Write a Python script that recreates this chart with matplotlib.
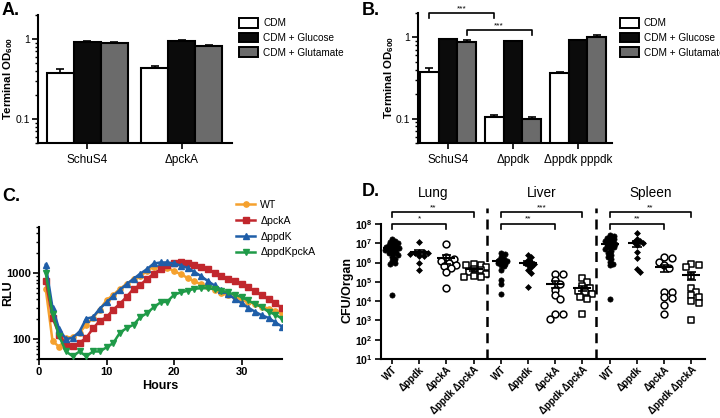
import numpy as np
import matplotlib
matplotlib.use('Agg')
import matplotlib.pyplot as plt
from matplotlib.patches import Patch
from matplotlib.lines import Line2D
from matplotlib.ticker import FixedLocator, NullFormatter, LogLocator

plt.rcParams['font.family'] = ['Liberation Sans', 'DejaVu Sans']
plt.rcParams['mathtext.fontset'] = 'custom'
plt.rcParams['mathtext.rm'] = 'Liberation Sans'
plt.rcParams['mathtext.bf'] = 'Liberation Sans:bold'
plt.rcParams['mathtext.default'] = 'bf'

W, H = 720, 418

# ---- panel A / B : terminal OD600 ----
media = ['CDM', 'CDM + Glucose', 'CDM + Glutamate']
bar_colors = ['white', '#0b0b0b', '#6b6b6b']

a_strains = ['SchuS4', 'ΔpckA']
a_cdm = [0.38, 0.43]
a_cdm_err = [0.04, 0.025]
a_glc = [0.93, 0.95]
a_glc_err = [0.01, 0.01]
a_glu = [0.90, 0.83]
a_glu_err = [0.01, 0.02]

b_strains = ['SchuS4', 'Δppdk', 'Δppdk pppdk']
b_cdm = [0.38, 0.105, 0.36]
b_cdm_err = [0.04, 0.005, 0.02]
b_glc = [0.95, 0.90, 0.92]
b_glc_err = [0.02, 0.01, 0.01]
b_glu = [0.88, 0.098, 1.0]
b_glu_err = [0.05, 0.006, 0.06]

# ---- panel C : luminescence ----
hours = list(range(1, 37))
rlu_wt = [575, 94, 76, 105, 108, 125, 165, 210, 280, 390, 470, 580, 690, 810, 900, 1080,
          1250, 1260, 1200, 1080, 960, 850, 750, 680, 610, 560, 500, 460, 430, 400,
          370, 340, 310, 290, 270, 245]
rlu_pcka = [760, 210, 117, 82, 78, 88, 105, 145, 190, 215, 280, 345, 440, 580, 660, 820,
            980, 1150, 1320, 1420, 1450, 1420, 1350, 1250, 1150, 1010, 910, 820, 750, 690,
            610, 530, 460, 400, 350, 295]
rlu_ppdk = [1340, 300, 140, 100, 105, 130, 205, 215, 290, 360, 450, 560, 680, 820, 980, 1150,
            1400, 1450, 1450, 1400, 1300, 1200, 1050, 900, 760, 650, 560, 480, 410, 350,
            300, 260, 230, 210, 180, 155]
rlu_double = [1000, 240, 110, 65, 55, 65, 55, 65, 65, 75, 87, 126, 147, 165, 215, 247,
              305, 360, 370, 470, 510, 540, 580, 590, 590, 570, 540, 510, 470, 435,
              385, 340, 305, 260, 235, 205]
c_names = ['WT', 'ΔpckA', 'ΔppdK', 'ΔppdKpckA']
c_colors = ['#f5a12e', '#c1272d', '#1f5ea8', '#1f9a48']
c_markers = ['o', 's', '^', 'v']

# ---- panel D : CFU per organ (log10 values) ----
organs = ['Lung', 'Liver', 'Spleen']
d_strains = ['WT', 'Δppdk', 'ΔpckA', 'Δppdk ΔpckA']
lung = [
    [7.2, 7.1, 7.05, 7.0, 6.95, 6.9, 6.85, 6.8, 6.8, 6.75, 6.7, 6.7, 6.65, 6.6, 6.55, 6.5,
     6.45, 6.4, 6.3, 6.2, 6.1, 6.0, 5.95, 4.3],
    [7.08, 6.35, 6.55, 6.5, 6.57, 6.5, 6.35, 6.45, 6.0, 5.6],
    [6.95, 6.3, 6.2, 6.1, 6.0, 5.9, 5.8, 5.7, 5.5, 4.7],
    [5.95, 5.9, 5.85, 5.75, 5.65, 5.6, 5.5, 5.4, 5.3, 5.25, 5.25],
]
liver = [
    [6.5, 6.45, 6.3, 6.2, 6.15, 6.1, 6.05, 6.0, 5.95, 5.9, 5.8, 5.6, 5.1, 4.9, 4.35],
    [6.4, 6.3, 6.15, 6.05, 6.0, 5.95, 5.85, 5.75, 5.6, 5.45, 4.75],
    [5.4, 5.4, 5.1, 4.9, 4.6, 4.3, 4.1, 3.35, 3.35, 3.1],
    [5.2, 5.0, 4.8, 4.7, 4.55, 4.45, 4.35, 4.2, 4.1, 3.35],
]
spleen = [
    [7.45, 7.4, 7.3, 7.25, 7.2, 7.15, 7.1, 7.05, 7.0, 6.95, 6.9, 6.85, 6.8, 6.75, 6.7, 6.6,
     6.5, 6.4, 6.3, 6.2, 6.05, 5.95, 5.85, 4.1],
    [7.55, 7.2, 7.1, 7.05, 7.0, 6.9, 6.55, 6.25, 5.65, 5.5],
    [6.3, 6.25, 6.05, 5.85, 5.7, 4.5, 4.5, 4.2, 4.15, 3.8, 3.35],
    [5.95, 5.9, 5.75, 5.3, 4.7, 4.5, 4.3, 4.2, 4.0, 3.9, 3.0],
]
d_sig = [['**', '*'], ['***', '**'], ['**', '**']]


def rect(l, t, r, b):
    return [l / W, 1 - b / H, (r - l) / W, (b - t) / H]


def style_axes(ax):
    for s in ['top', 'right']:
        ax.spines[s].set_visible(False)
    for s in ['left', 'bottom']:
        ax.spines[s].set_linewidth(1.5)
    ax.tick_params(which='major', width=1.2, length=4, direction='out', pad=2)
    ax.tick_params(which='minor', width=1.0, length=2.5, direction='out')


def bar_panel(ax, strains, vals, errs, xlim):
    x = np.arange(len(strains))
    w = 0.285
    for i in range(3):
        ax.bar(x + (i - 1) * w, vals[i], w, color=bar_colors[i], edgecolor='black',
               linewidth=1.5, zorder=2)
        ax.errorbar(x + (i - 1) * w, vals[i], yerr=[np.zeros(len(x)), errs[i]],
                    fmt='none', ecolor='black', elinewidth=1.2, capsize=3, capthick=1.2, zorder=1)
    ax.set_yscale('log')
    ax.set_ylim(0.05, 2)
    ax.set_xlim(*xlim)
    ax.yaxis.set_major_locator(FixedLocator([0.1, 1]))
    ax.set_yticklabels(['0.1', '1'])
    ax.yaxis.set_minor_locator(LogLocator(subs=np.arange(2, 10)))
    ax.yaxis.set_minor_formatter(NullFormatter())
    ax.set_xticks(x)
    ax.set_xticklabels(strains, fontsize=8.5)
    ax.tick_params(axis='y', labelsize=7.5)
    style_axes(ax)
    ax.tick_params(axis='x', pad=4)
    return x, w


fig = plt.figure(figsize=(7.2, 4.18), dpi=100)

# A
axA = fig.add_axes(rect(38, 15, 232, 143))
bar_panel(axA, a_strains, [a_cdm, a_glc, a_glu], [a_cdm_err, a_glc_err, a_glu_err], (-0.52, 1.53))
handles = [Patch(facecolor=c, edgecolor='black', linewidth=1.4) for c in bar_colors]
leg_kw = dict(loc='upper left', frameon=False, fontsize=7.2, handlelength=1.9, handleheight=1.1,
              labelspacing=0.45, borderpad=0, borderaxespad=0, handletextpad=0.5)
fig.legend(handles, media, bbox_to_anchor=(239 / W, 1 - 18 / H), **leg_kw)

# B
axB = fig.add_axes(rect(418, 13, 612, 143))
xb, wb = bar_panel(axB, b_strains, [b_cdm, b_glc, b_glu], [b_cdm_err, b_glc_err, b_glu_err],
                   (-0.46, 2.52))
for (x0, x1, y, yd) in [(xb[0] - wb, xb[1] - wb, 2.0, 1.74), (xb[0] + wb, xb[1] + wb, 1.23, 1.06)]:
    axB.plot([x0, x0, x1, x1], [yd, y, y, yd], color='black', lw=1.2, clip_on=False)
    axB.text((x0 + x1) / 2, y * 1.03, '***', ha='center', va='bottom', fontsize=6)
fig.legend(handles, media, bbox_to_anchor=(620 / W, 1 - 18 / H), **leg_kw)

for xl, yc in [(8, 79), (389, 78)]:
    fig.text(xl / W, 1 - yc / H, 'Terminal OD$_{600}$', rotation=90, ha='center', va='center',
             fontsize=8.2, fontweight='bold')

# C
axC = fig.add_axes(rect(39, 227, 282, 359))
series = [rlu_wt, rlu_pcka, rlu_ppdk, rlu_double]
for k in [3, 2, 1, 0]:
    axC.plot(hours, series[k], color=c_colors[k], marker=c_markers[k], markersize=3.8,
             lw=1.8, zorder=3 + k)
axC.set_yscale('log')
axC.set_ylim(50, 5000)
axC.set_xlim(0, 36)
axC.set_xticks([0, 10, 20, 30])
axC.yaxis.set_major_locator(FixedLocator([100, 1000]))
axC.set_yticklabels(['100', '1000'])
axC.yaxis.set_minor_locator(LogLocator(subs=np.arange(2, 10)))
axC.yaxis.set_minor_formatter(NullFormatter())
style_axes(axC)
for lab in axC.get_xticklabels() + axC.get_yticklabels():
    lab.set_fontweight('bold')
    lab.set_fontsize(8)
fig.text(160 / W, 1 - 386 / H, 'Hours', ha='center', va='center', fontsize=9, fontweight='bold')
fig.text(8 / W, 1 - 293 / H, 'RLU', rotation=90, ha='center', va='center', fontsize=9,
         fontweight='bold')
c_handles = [Line2D([], [], color=c_colors[k], marker=c_markers[k], markersize=3.8, lw=1.8)
             for k in range(4)]
fig.legend(c_handles, c_names, loc='upper left', bbox_to_anchor=(236 / W, 1 - 200 / H),
           frameon=False, fontsize=7.6, handlelength=1.8, labelspacing=0.55,
           borderpad=0, borderaxespad=0, handletextpad=0.5)

# D
axD = fig.add_axes(rect(381, 224, 705, 359))
axD.set_yscale('log')
axD.set_ylim(10, 1e8)
axD.set_xlim(-0.4, 11.5)


def swarm_x(ax, x0, vals, diam):
    pts = ax.transData.transform(np.column_stack([np.full(len(vals), x0), vals]))
    ys = pts[:, 1]
    order = np.argsort(-ys)
    placed = []
    xs = np.zeros(len(vals))
    for i in order:
        dx = 0.0
        for k in range(60):
            cand = [0.0] if k == 0 else [k * diam * 0.45, -k * diam * 0.45]
            found = False
            for c in cand:
                if all((c - px) ** 2 + (ys[i] - py) ** 2 >= diam ** 2 for px, py in placed):
                    dx = c
                    found = True
                    break
            if found:
                break
        placed.append((dx, ys[i]))
        xs[i] = pts[i, 0] + dx
    return ax.transData.inverted().transform(np.column_stack([xs, ys]))[:, 0]


d_styles = [
    dict(marker='o', s=14, facecolor='black', edgecolor='black', linewidths=0.5),
    dict(marker='D', s=9, facecolor='black', edgecolor='black', linewidths=0.5),
    dict(marker='o', s=24, facecolor='white', edgecolor='black', linewidths=1.1),
    dict(marker='s', s=22, facecolor='white', edgecolor='black', linewidths=1.1),
]
d_diam = [3.2, 3.4, 5.5, 5.5]

pos = 0
ticks = []
for g, data in enumerate([lung, liver, spleen]):
    for s, logv in enumerate(data):
        vals = 10 ** np.array(logv)
        xs = swarm_x(axD, pos, vals, d_diam[s])
        axD.scatter(xs, vals, zorder=3, clip_on=False, **d_styles[s])
        m = vals.mean()
        sem = vals.std(ddof=1) / np.sqrt(len(vals))
        axD.hlines(m, pos - 0.33, pos + 0.33, color='black', lw=1.5, zorder=4)
        axD.vlines(pos, max(m - sem, 11), m + sem, color='black', lw=1.2, zorder=4)
        axD.hlines([max(m - sem, 11), m + sem], pos - 0.17, pos + 0.17, color='black', lw=1.2, zorder=4)
        ticks.append(pos)
        pos += 1
    base = g * 4
    for (x1, ylev, ydn, txt) in [(base + 3, 10 ** 8.61, 10 ** 8.37, d_sig[g][0]),
                                 (base + 2, 10 ** 8.0, 10 ** 7.76, d_sig[g][1])]:
        axD.plot([base, base, x1, x1], [ydn, ylev, ylev, ydn], color='black', lw=1.2, clip_on=False)
        axD.text((base + x1) / 2, ylev * 1.15, txt, ha='center', va='bottom', fontsize=6)
    axD.text(base + 1.5, 10 ** 9.6, organs[g], ha='center', va='center', fontsize=9.8)
    if g < 2:
        axD.axvline(base + 3.5, ymin=0, ymax=1.12, color='black', lw=1.8,
                    dashes=(4, 2.5), clip_on=False)

axD.set_xticks(ticks)
axD.set_xticklabels(d_strains * 3, rotation=45, ha='right', rotation_mode='anchor',
                    fontsize=7, fontweight='bold')
axD.yaxis.set_major_locator(FixedLocator([10 ** k for k in range(1, 9)]))
axD.set_yticklabels(['$10^{%d}$' % k for k in range(1, 9)], fontsize=7.5)
axD.yaxis.set_minor_locator(FixedLocator([]))
style_axes(axD)
axD.tick_params(axis='x', pad=0.5, length=3.5)
fig.text(347 / W, 1 - 290 / H, 'CFU/Organ', rotation=90, ha='center', va='center', fontsize=9,
         fontweight='bold')

for t, x, y in [('A.', 2, 2), ('B.', 362, 2), ('C.', 2, 188), ('D.', 362, 183)]:
    fig.text(x / W, 1 - y / H, t, ha='left', va='top', fontsize=13, fontweight='bold')

fig.savefig('out.png', dpi=100)
